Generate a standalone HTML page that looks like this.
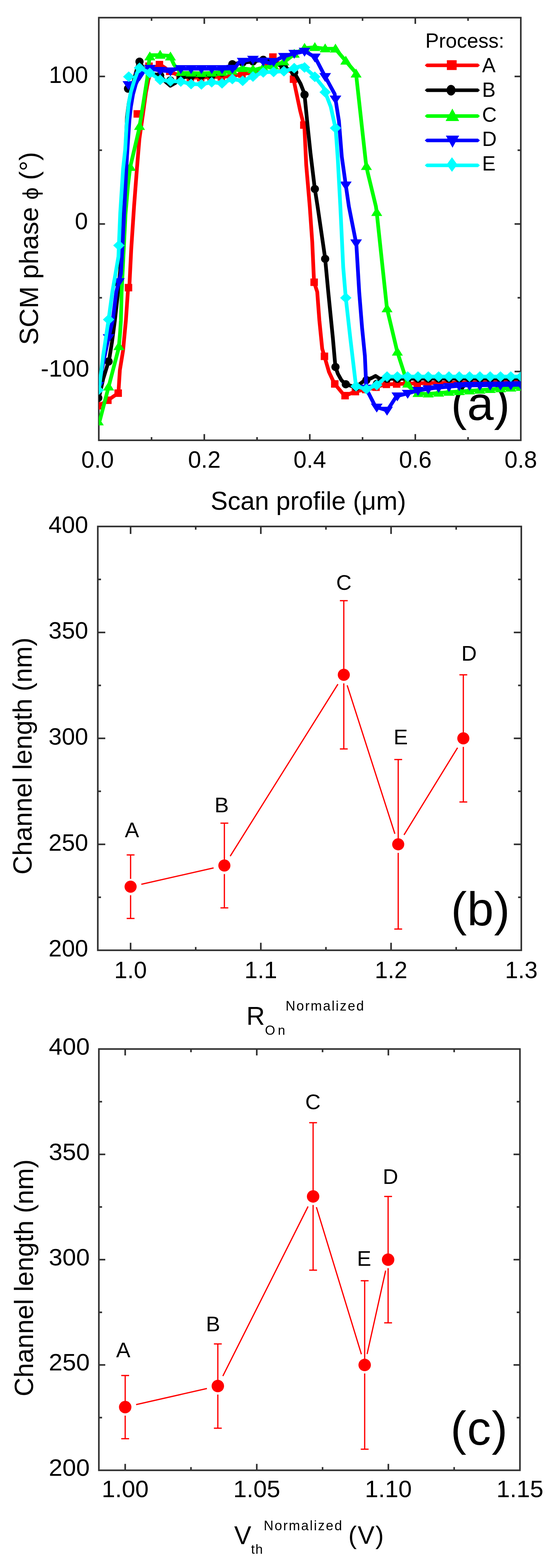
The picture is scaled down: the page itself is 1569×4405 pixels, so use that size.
<!DOCTYPE html>
<html><head><meta charset="utf-8"><title>Figure</title>
<style>html,body{margin:0;padding:0;background:#fff}svg{display:block}</style></head>
<body><svg width="1569" height="4405" viewBox="0 0 1569 4405">
<rect width="1569" height="4405" fill="#fff"/>
<g font-family="Liberation Sans, Arial, sans-serif">
<text x="1268.0" y="1180.2" font-size="134" text-anchor="start" letter-spacing="0.9">(a)</text>
</g>
<rect x="277.8" y="49.6" width="1186.60" height="1187.30" fill="none" stroke="#303030" stroke-width="4.5"/>
<path d="M574.45,1236.90v-17.5M574.45,49.60v17.5M871.10,1236.90v-17.5M871.10,49.60v17.5M1167.75,1236.90v-17.5M1167.75,49.60v17.5M426.12,1236.90v-9M426.12,49.60v9M722.77,1236.90v-9M722.77,49.60v9M1019.42,1236.90v-9M1019.42,49.60v9M1316.07,1236.90v-9M1316.07,49.60v9" stroke="#303030" stroke-width="4.5" fill="none"/>
<path d="M277.80,1043.80h17.5M1464.40,1043.80h-17.5M277.80,629.30h17.5M1464.40,629.30h-17.5M277.80,214.80h17.5M1464.40,214.80h-17.5M277.80,836.55h9M1464.40,836.55h-9M277.80,422.05h9M1464.40,422.05h-9" stroke="#303030" stroke-width="4.5" fill="none"/>
<svg x="277.8" y="49.6" width="1186.6000000000001" height="1187.3000000000002" viewBox="277.8 49.6 1186.6000000000001 1187.3000000000002" overflow="hidden">
<path d="M278.0,1140.0L304.0,1124.0L333.0,1104.0L337.0,1040.0L346.0,985.0L354.0,900.0L360.0,812.0L364.0,800.0L369.0,700.0L377.0,579.0L385.0,474.0L392.0,390.0L402.0,320.0L410.0,262.0L417.0,225.0L424.0,203.0L436.0,190.0L449.0,181.0L463.0,190.0L478.0,201.0L507.0,214.0L536.0,218.0L565.0,218.0L594.0,216.0L623.0,216.0L652.0,214.0L680.0,208.0L709.0,204.0L738.0,198.0L767.0,160.0L796.0,192.0L821.0,202.0L844.0,311.0L856.0,358.0L861.0,463.0L871.0,580.0L878.0,680.0L883.0,792.0L892.0,820.0L898.0,900.0L906.0,980.0L912.0,1000.0L925.0,1045.0L940.0,1077.0L969.0,1112.0L1002.0,1099.0L1047.0,1091.0L1082.0,1080.0L1138.0,1078.0L1200.0,1076.0L1464.0,1073.0" fill="none" stroke="#ff0000" stroke-width="10.5" stroke-linejoin="round"/>
<rect x="263.8" y="1129.5" width="21" height="21" fill="#ff0000"/><rect x="292.8" y="1113.9" width="21" height="21" fill="#ff0000"/><rect x="321.8" y="1094.0" width="21" height="21" fill="#ff0000"/><rect x="350.8" y="797.6" width="21" height="21" fill="#ff0000"/><rect x="375.5" y="309.5" width="21" height="21" fill="#ff0000"/><rect x="408.5" y="175.5" width="21" height="21" fill="#ff0000"/><rect x="437.8" y="171.0" width="21" height="21" fill="#ff0000"/><rect x="466.8" y="190.0" width="21" height="21" fill="#ff0000"/><rect x="495.8" y="203.2" width="21" height="21" fill="#ff0000"/><rect x="524.8" y="207.4" width="21" height="21" fill="#ff0000"/><rect x="553.8" y="207.5" width="21" height="21" fill="#ff0000"/><rect x="582.8" y="205.5" width="21" height="21" fill="#ff0000"/><rect x="611.8" y="205.5" width="21" height="21" fill="#ff0000"/><rect x="640.8" y="203.5" width="21" height="21" fill="#ff0000"/><rect x="669.8" y="197.5" width="21" height="21" fill="#ff0000"/><rect x="698.8" y="193.4" width="21" height="21" fill="#ff0000"/><rect x="727.8" y="187.1" width="21" height="21" fill="#ff0000"/><rect x="756.8" y="149.8" width="21" height="21" fill="#ff0000"/><rect x="785.8" y="181.6" width="21" height="21" fill="#ff0000"/><rect x="814.8" y="211.9" width="21" height="21" fill="#ff0000"/><rect x="843.8" y="340.8" width="21" height="21" fill="#ff0000"/><rect x="872.8" y="782.4" width="21" height="21" fill="#ff0000"/><rect x="901.8" y="990.5" width="21" height="21" fill="#ff0000"/><rect x="930.8" y="1068.1" width="21" height="21" fill="#ff0000"/><rect x="959.8" y="1101.0" width="21" height="21" fill="#ff0000"/><rect x="988.8" y="1089.6" width="21" height="21" fill="#ff0000"/><rect x="1017.8" y="1083.8" width="21" height="21" fill="#ff0000"/><rect x="1046.8" y="1077.3" width="21" height="21" fill="#ff0000"/><rect x="1075.8" y="1069.3" width="21" height="21" fill="#ff0000"/><rect x="1104.8" y="1068.3" width="21" height="21" fill="#ff0000"/><rect x="1133.8" y="1067.3" width="21" height="21" fill="#ff0000"/><rect x="1162.8" y="1066.4" width="21" height="21" fill="#ff0000"/><rect x="1191.8" y="1065.5" width="21" height="21" fill="#ff0000"/><rect x="1220.8" y="1065.1" width="21" height="21" fill="#ff0000"/><rect x="1249.8" y="1064.8" width="21" height="21" fill="#ff0000"/><rect x="1278.8" y="1064.5" width="21" height="21" fill="#ff0000"/><rect x="1307.8" y="1064.2" width="21" height="21" fill="#ff0000"/><rect x="1336.8" y="1063.8" width="21" height="21" fill="#ff0000"/><rect x="1365.8" y="1063.5" width="21" height="21" fill="#ff0000"/><rect x="1394.8" y="1063.2" width="21" height="21" fill="#ff0000"/><rect x="1423.8" y="1062.8" width="21" height="21" fill="#ff0000"/><rect x="1452.8" y="1062.5" width="21" height="21" fill="#ff0000"/>
<path d="M278.0,1118.0L290.0,1065.0L307.0,1010.0L315.0,960.0L323.0,900.0L332.0,820.0L338.0,760.0L344.0,650.0L349.0,530.0L353.0,420.0L357.0,330.0L362.0,290.0L370.0,250.0L380.0,212.0L391.0,171.0L405.0,195.0L420.0,205.0L450.0,212.0L465.0,229.0L479.0,241.0L493.0,233.0L507.0,218.0L536.0,214.0L565.0,212.0L594.0,212.0L623.0,205.0L650.0,181.0L680.0,176.0L702.0,174.0L741.0,168.0L770.0,175.0L796.0,188.0L826.0,201.0L845.0,235.0L856.0,263.0L865.0,354.0L873.0,430.0L885.0,529.0L893.0,580.0L914.0,724.0L923.0,820.0L936.0,950.0L943.0,1030.0L950.0,1050.0L960.0,1068.0L971.0,1079.0L1000.0,1088.0L1022.0,1071.0L1045.0,1062.0L1056.0,1056.0L1068.0,1064.0L1100.0,1064.0L1464.0,1063.0" fill="none" stroke="#000000" stroke-width="10.5" stroke-linejoin="round"/>
<circle cx="276.3" cy="1118.0" r="11.5" fill="#000000"/><circle cx="305.3" cy="1015.5" r="11.5" fill="#000000"/><circle cx="334.3" cy="797.0" r="11.5" fill="#000000"/><circle cx="360.0" cy="249.0" r="11.5" fill="#000000"/><circle cx="392.3" cy="173.2" r="11.5" fill="#000000"/><circle cx="421.3" cy="205.3" r="11.5" fill="#000000"/><circle cx="450.3" cy="212.3" r="11.5" fill="#000000"/><circle cx="479.0" cy="226.0" r="11.5" fill="#000000"/><circle cx="508.3" cy="217.8" r="11.5" fill="#000000"/><circle cx="537.3" cy="213.9" r="11.5" fill="#000000"/><circle cx="566.3" cy="212.0" r="11.5" fill="#000000"/><circle cx="595.3" cy="211.7" r="11.5" fill="#000000"/><circle cx="624.3" cy="203.8" r="11.5" fill="#000000"/><circle cx="653.3" cy="180.5" r="11.5" fill="#000000"/><circle cx="682.3" cy="175.8" r="11.5" fill="#000000"/><circle cx="711.3" cy="172.6" r="11.5" fill="#000000"/><circle cx="740.3" cy="168.1" r="11.5" fill="#000000"/><circle cx="769.3" cy="174.8" r="11.5" fill="#000000"/><circle cx="798.3" cy="189.0" r="11.5" fill="#000000"/><circle cx="827.3" cy="203.3" r="11.5" fill="#000000"/><circle cx="856.3" cy="266.0" r="11.5" fill="#000000"/><circle cx="885.3" cy="530.9" r="11.5" fill="#000000"/><circle cx="914.3" cy="727.2" r="11.5" fill="#000000"/><circle cx="943.3" cy="1030.9" r="11.5" fill="#000000"/><circle cx="972.3" cy="1079.4" r="11.5" fill="#000000"/><circle cx="1001.3" cy="1087.0" r="11.5" fill="#000000"/><circle cx="1030.3" cy="1067.8" r="11.5" fill="#000000"/><circle cx="1060.0" cy="1078.0" r="11.5" fill="#000000"/><circle cx="1088.3" cy="1064.0" r="11.5" fill="#000000"/><circle cx="1117.3" cy="1064.0" r="11.5" fill="#000000"/><circle cx="1146.3" cy="1063.9" r="11.5" fill="#000000"/><circle cx="1175.3" cy="1063.8" r="11.5" fill="#000000"/><circle cx="1204.3" cy="1063.7" r="11.5" fill="#000000"/><circle cx="1233.3" cy="1063.6" r="11.5" fill="#000000"/><circle cx="1262.3" cy="1063.6" r="11.5" fill="#000000"/><circle cx="1291.3" cy="1063.5" r="11.5" fill="#000000"/><circle cx="1320.3" cy="1063.4" r="11.5" fill="#000000"/><circle cx="1349.3" cy="1063.3" r="11.5" fill="#000000"/><circle cx="1378.3" cy="1063.2" r="11.5" fill="#000000"/><circle cx="1407.3" cy="1063.2" r="11.5" fill="#000000"/><circle cx="1436.3" cy="1063.1" r="11.5" fill="#000000"/><circle cx="1465.3" cy="1063.0" r="11.5" fill="#000000"/>
<path d="M278.0,1185.0L281.0,1180.0L305.0,1088.0L334.0,977.0L338.0,930.0L340.0,900.0L342.0,820.0L348.0,700.0L353.0,600.0L360.0,520.0L366.0,470.0L391.0,363.0L403.0,290.0L414.0,220.0L418.0,180.0L422.0,155.0L450.0,155.0L478.0,157.0L489.0,181.0L497.0,192.0L510.0,205.0L536.0,205.0L565.0,206.0L594.0,205.0L623.0,203.0L652.0,200.0L680.0,192.0L715.0,196.0L740.0,190.0L770.0,185.0L802.0,172.0L830.0,150.0L857.0,135.0L884.0,133.0L914.0,137.0L943.0,137.0L971.0,170.0L1001.0,205.0L1003.0,224.0L1028.0,450.0L1030.0,466.0L1034.0,485.0L1057.0,580.0L1059.0,594.0L1088.0,866.0L1117.0,988.0L1148.0,1084.0L1172.0,1105.0L1200.0,1107.0L1260.0,1102.0L1350.0,1096.0L1464.0,1088.0" fill="none" stroke="#00ff00" stroke-width="10.5" stroke-linejoin="round"/>
<path d="M276.3,1170.0L291.8,1195.0L260.8,1195.0Z" fill="#00ff00"/><path d="M305.3,1071.9L320.8,1096.9L289.8,1096.9Z" fill="#00ff00"/><path d="M334.3,958.5L349.8,983.5L318.8,983.5Z" fill="#00ff00"/><path d="M366.5,455.0L382.0,480.0L351.0,480.0Z" fill="#00ff00"/><path d="M392.3,340.1L407.8,365.1L376.8,365.1Z" fill="#00ff00"/><path d="M421.3,144.4L436.8,169.4L405.8,169.4Z" fill="#00ff00"/><path d="M450.3,140.0L465.8,165.0L434.8,165.0Z" fill="#00ff00"/><path d="M479.3,144.8L494.8,169.8L463.8,169.8Z" fill="#00ff00"/><path d="M508.3,188.3L523.8,213.3L492.8,213.3Z" fill="#00ff00"/><path d="M537.3,190.0L552.8,215.0L521.8,215.0Z" fill="#00ff00"/><path d="M566.3,191.0L581.8,216.0L550.8,216.0Z" fill="#00ff00"/><path d="M595.3,189.9L610.8,214.9L579.8,214.9Z" fill="#00ff00"/><path d="M624.3,187.9L639.8,212.9L608.8,212.9Z" fill="#00ff00"/><path d="M653.3,184.6L668.8,209.6L637.8,209.6Z" fill="#00ff00"/><path d="M682.3,177.3L697.8,202.3L666.8,202.3Z" fill="#00ff00"/><path d="M711.3,180.6L726.8,205.6L695.8,205.6Z" fill="#00ff00"/><path d="M740.3,175.0L755.8,200.0L724.8,200.0Z" fill="#00ff00"/><path d="M769.3,170.1L784.8,195.1L753.8,195.1Z" fill="#00ff00"/><path d="M798.3,158.5L813.8,183.5L782.8,183.5Z" fill="#00ff00"/><path d="M827.3,137.1L842.8,162.1L811.8,162.1Z" fill="#00ff00"/><path d="M856.3,120.4L871.8,145.4L840.8,145.4Z" fill="#00ff00"/><path d="M885.3,118.2L900.8,143.2L869.8,143.2Z" fill="#00ff00"/><path d="M914.3,122.0L929.8,147.0L898.8,147.0Z" fill="#00ff00"/><path d="M943.3,122.4L958.8,147.4L927.8,147.4Z" fill="#00ff00"/><path d="M972.3,156.5L987.8,181.5L956.8,181.5Z" fill="#00ff00"/><path d="M1001.3,192.8L1016.8,217.8L985.8,217.8Z" fill="#00ff00"/><path d="M1030.3,452.4L1045.8,477.4L1014.8,477.4Z" fill="#00ff00"/><path d="M1059.3,581.8L1074.8,606.8L1043.8,606.8Z" fill="#00ff00"/><path d="M1088.3,852.3L1103.8,877.3L1072.8,877.3Z" fill="#00ff00"/><path d="M1117.3,973.9L1132.8,998.9L1101.8,998.9Z" fill="#00ff00"/><path d="M1146.3,1063.7L1161.8,1088.7L1130.8,1088.7Z" fill="#00ff00"/><path d="M1175.3,1090.2L1190.8,1115.2L1159.8,1115.2Z" fill="#00ff00"/><path d="M1204.3,1091.6L1219.8,1116.6L1188.8,1116.6Z" fill="#00ff00"/><path d="M1233.3,1089.2L1248.8,1114.2L1217.8,1114.2Z" fill="#00ff00"/><path d="M1262.3,1086.8L1277.8,1111.8L1246.8,1111.8Z" fill="#00ff00"/><path d="M1291.3,1084.9L1306.8,1109.9L1275.8,1109.9Z" fill="#00ff00"/><path d="M1320.3,1083.0L1335.8,1108.0L1304.8,1108.0Z" fill="#00ff00"/><path d="M1349.3,1081.0L1364.8,1106.0L1333.8,1106.0Z" fill="#00ff00"/><path d="M1378.3,1079.0L1393.8,1104.0L1362.8,1104.0Z" fill="#00ff00"/><path d="M1407.3,1077.0L1422.8,1102.0L1391.8,1102.0Z" fill="#00ff00"/><path d="M1436.3,1074.9L1451.8,1099.9L1420.8,1099.9Z" fill="#00ff00"/><path d="M1465.3,1073.0L1480.8,1098.0L1449.8,1098.0Z" fill="#00ff00"/>
<path d="M278.0,1083.0L290.0,1020.0L305.0,950.0L317.0,900.0L327.0,820.0L340.0,769.0L344.0,700.0L349.0,600.0L354.0,500.0L357.0,440.0L361.0,380.0L364.0,336.0L368.0,300.0L374.0,265.0L382.0,236.0L393.0,212.0L406.0,196.0L420.0,192.0L449.0,198.0L478.0,200.0L497.0,193.0L530.0,193.0L565.0,193.0L594.0,193.0L623.0,193.0L660.0,192.0L672.0,175.0L707.0,166.0L740.0,172.0L760.0,178.0L794.0,160.0L827.0,150.0L858.0,144.0L886.0,161.0L912.0,211.0L941.0,264.0L953.0,340.0L961.0,440.0L972.0,518.0L981.0,580.0L1002.0,686.0L1010.0,820.0L1018.0,920.0L1026.0,1000.0L1030.0,1090.0L1034.0,1100.0L1056.0,1143.0L1089.0,1153.0L1115.0,1113.0L1147.0,1105.0L1175.0,1097.0L1220.0,1090.0L1300.0,1083.0L1464.0,1081.0" fill="none" stroke="#0000ff" stroke-width="10.5" stroke-linejoin="round"/>
<path d="M276.3,1098.0L292.8,1073.0L259.8,1073.0Z" fill="#0000ff"/><path d="M305.3,963.8L321.8,938.8L288.8,938.8Z" fill="#0000ff"/><path d="M334.3,806.4L350.8,781.4L317.8,781.4Z" fill="#0000ff"/><path d="M361.0,253.0L377.5,228.0L344.5,228.0Z" fill="#0000ff"/><path d="M392.3,228.5L408.8,203.5L375.8,203.5Z" fill="#0000ff"/><path d="M421.3,207.3L437.8,182.3L404.8,182.3Z" fill="#0000ff"/><path d="M450.3,213.1L466.8,188.1L433.8,188.1Z" fill="#0000ff"/><path d="M479.3,214.5L495.8,189.5L462.8,189.5Z" fill="#0000ff"/><path d="M508.3,208.0L524.8,183.0L491.8,183.0Z" fill="#0000ff"/><path d="M537.3,208.0L553.8,183.0L520.8,183.0Z" fill="#0000ff"/><path d="M566.3,208.0L582.8,183.0L549.8,183.0Z" fill="#0000ff"/><path d="M595.3,208.0L611.8,183.0L578.8,183.0Z" fill="#0000ff"/><path d="M624.3,208.0L640.8,183.0L607.8,183.0Z" fill="#0000ff"/><path d="M653.3,207.2L669.8,182.2L636.8,182.2Z" fill="#0000ff"/><path d="M682.3,187.4L698.8,162.4L665.8,162.4Z" fill="#0000ff"/><path d="M711.3,181.8L727.8,156.8L694.8,156.8Z" fill="#0000ff"/><path d="M740.3,187.1L756.8,162.1L723.8,162.1Z" fill="#0000ff"/><path d="M769.3,188.1L785.8,163.1L752.8,163.1Z" fill="#0000ff"/><path d="M798.3,173.7L814.8,148.7L781.8,148.7Z" fill="#0000ff"/><path d="M827.3,164.9L843.8,139.9L810.8,139.9Z" fill="#0000ff"/><path d="M856.3,159.3L872.8,134.3L839.8,134.3Z" fill="#0000ff"/><path d="M885.3,175.6L901.8,150.6L868.8,150.6Z" fill="#0000ff"/><path d="M914.3,230.2L930.8,205.2L897.8,205.2Z" fill="#0000ff"/><path d="M943.3,293.6L959.8,268.6L926.8,268.6Z" fill="#0000ff"/><path d="M972.3,535.1L988.8,510.1L955.8,510.1Z" fill="#0000ff"/><path d="M1001.3,697.5L1017.8,672.5L984.8,672.5Z" fill="#0000ff"/><path d="M1030.3,1105.8L1046.8,1080.8L1013.8,1080.8Z" fill="#0000ff"/><path d="M1059.3,1159.0L1075.8,1134.0L1042.8,1134.0Z" fill="#0000ff"/><path d="M1088.3,1167.8L1104.8,1142.8L1071.8,1142.8Z" fill="#0000ff"/><path d="M1117.3,1127.4L1133.8,1102.4L1100.8,1102.4Z" fill="#0000ff"/><path d="M1146.3,1120.2L1162.8,1095.2L1129.8,1095.2Z" fill="#0000ff"/><path d="M1175.3,1112.0L1191.8,1087.0L1158.8,1087.0Z" fill="#0000ff"/><path d="M1204.3,1107.4L1220.8,1082.4L1187.8,1082.4Z" fill="#0000ff"/><path d="M1233.3,1103.8L1249.8,1078.8L1216.8,1078.8Z" fill="#0000ff"/><path d="M1262.3,1101.3L1278.8,1076.3L1245.8,1076.3Z" fill="#0000ff"/><path d="M1291.3,1098.8L1307.8,1073.8L1274.8,1073.8Z" fill="#0000ff"/><path d="M1320.3,1097.8L1336.8,1072.8L1303.8,1072.8Z" fill="#0000ff"/><path d="M1349.3,1097.4L1365.8,1072.4L1332.8,1072.4Z" fill="#0000ff"/><path d="M1378.3,1097.0L1394.8,1072.0L1361.8,1072.0Z" fill="#0000ff"/><path d="M1407.3,1096.7L1423.8,1071.7L1390.8,1071.7Z" fill="#0000ff"/><path d="M1436.3,1096.3L1452.8,1071.3L1419.8,1071.3Z" fill="#0000ff"/><path d="M1465.3,1096.0L1481.8,1071.0L1448.8,1071.0Z" fill="#0000ff"/>
<path d="M278.0,1096.0L290.0,1000.0L305.0,900.0L316.0,820.0L333.0,721.0L338.0,600.0L346.0,475.0L352.0,420.0L356.0,350.0L362.0,290.0L368.0,258.0L378.0,225.0L391.0,190.0L420.0,204.0L449.0,224.0L479.0,228.0L508.0,229.0L537.0,236.0L566.0,237.0L595.0,231.0L624.0,234.0L653.0,222.0L682.0,227.0L711.0,215.0L741.0,203.0L767.0,202.0L800.0,200.0L826.0,192.0L850.0,184.0L883.0,213.0L909.0,245.0L930.0,300.0L944.0,363.0L950.0,450.0L957.0,580.0L965.0,750.0L972.0,834.0L985.0,950.0L1001.0,1085.0L1030.0,1093.0L1059.0,1082.0L1087.0,1058.0L1464.0,1058.0" fill="none" stroke="#00ffff" stroke-width="10.5" stroke-linejoin="round"/>
<path d="M276.3,1081.0L292.3,1096.0L276.3,1111.0L260.3,1096.0Z" fill="#00ffff"/><path d="M305.3,882.8L321.3,897.8L305.3,912.8L289.3,897.8Z" fill="#00ffff"/><path d="M334.3,674.5L350.3,689.5L334.3,704.5L318.3,689.5Z" fill="#00ffff"/><path d="M362.0,200.6L378.0,215.6L362.0,230.6L346.0,215.6Z" fill="#00ffff"/><path d="M392.3,175.6L408.3,190.6L392.3,205.6L376.3,190.6Z" fill="#00ffff"/><path d="M421.3,189.9L437.3,204.9L421.3,219.9L405.3,204.9Z" fill="#00ffff"/><path d="M450.3,209.2L466.3,224.2L450.3,239.2L434.3,224.2Z" fill="#00ffff"/><path d="M479.3,213.0L495.3,228.0L479.3,243.0L463.3,228.0Z" fill="#00ffff"/><path d="M508.3,214.1L524.3,229.1L508.3,244.1L492.3,229.1Z" fill="#00ffff"/><path d="M537.3,221.0L553.3,236.0L537.3,251.0L521.3,236.0Z" fill="#00ffff"/><path d="M566.3,221.9L582.3,236.9L566.3,251.9L550.3,236.9Z" fill="#00ffff"/><path d="M595.3,216.0L611.3,231.0L595.3,246.0L579.3,231.0Z" fill="#00ffff"/><path d="M624.3,218.9L640.3,233.9L624.3,248.9L608.3,233.9Z" fill="#00ffff"/><path d="M653.3,207.1L669.3,222.1L653.3,237.1L637.3,222.1Z" fill="#00ffff"/><path d="M682.3,211.9L698.3,226.9L682.3,241.9L666.3,226.9Z" fill="#00ffff"/><path d="M711.3,199.9L727.3,214.9L711.3,229.9L695.3,214.9Z" fill="#00ffff"/><path d="M740.3,188.3L756.3,203.3L740.3,218.3L724.3,203.3Z" fill="#00ffff"/><path d="M769.3,186.9L785.3,201.9L769.3,216.9L753.3,201.9Z" fill="#00ffff"/><path d="M798.3,185.1L814.3,200.1L798.3,215.1L782.3,200.1Z" fill="#00ffff"/><path d="M827.3,176.6L843.3,191.6L827.3,206.6L811.3,191.6Z" fill="#00ffff"/><path d="M856.3,174.5L872.3,189.5L856.3,204.5L840.3,189.5Z" fill="#00ffff"/><path d="M885.3,200.8L901.3,215.8L885.3,230.8L869.3,215.8Z" fill="#00ffff"/><path d="M914.3,243.9L930.3,258.9L914.3,273.9L898.3,258.9Z" fill="#00ffff"/><path d="M943.3,344.8L959.3,359.8L943.3,374.8L927.3,359.8Z" fill="#00ffff"/><path d="M972.3,821.7L988.3,836.7L972.3,851.7L956.3,836.7Z" fill="#00ffff"/><path d="M1001.3,1070.1L1017.3,1085.1L1001.3,1100.1L985.3,1085.1Z" fill="#00ffff"/><path d="M1030.3,1077.9L1046.3,1092.9L1030.3,1107.9L1014.3,1092.9Z" fill="#00ffff"/><path d="M1059.3,1066.7L1075.3,1081.7L1059.3,1096.7L1043.3,1081.7Z" fill="#00ffff"/><path d="M1088.3,1043.0L1104.3,1058.0L1088.3,1073.0L1072.3,1058.0Z" fill="#00ffff"/><path d="M1117.3,1043.0L1133.3,1058.0L1117.3,1073.0L1101.3,1058.0Z" fill="#00ffff"/><path d="M1146.3,1043.0L1162.3,1058.0L1146.3,1073.0L1130.3,1058.0Z" fill="#00ffff"/><path d="M1175.3,1043.0L1191.3,1058.0L1175.3,1073.0L1159.3,1058.0Z" fill="#00ffff"/><path d="M1204.3,1043.0L1220.3,1058.0L1204.3,1073.0L1188.3,1058.0Z" fill="#00ffff"/><path d="M1233.3,1043.0L1249.3,1058.0L1233.3,1073.0L1217.3,1058.0Z" fill="#00ffff"/><path d="M1262.3,1043.0L1278.3,1058.0L1262.3,1073.0L1246.3,1058.0Z" fill="#00ffff"/><path d="M1291.3,1043.0L1307.3,1058.0L1291.3,1073.0L1275.3,1058.0Z" fill="#00ffff"/><path d="M1320.3,1043.0L1336.3,1058.0L1320.3,1073.0L1304.3,1058.0Z" fill="#00ffff"/><path d="M1349.3,1043.0L1365.3,1058.0L1349.3,1073.0L1333.3,1058.0Z" fill="#00ffff"/><path d="M1378.3,1043.0L1394.3,1058.0L1378.3,1073.0L1362.3,1058.0Z" fill="#00ffff"/><path d="M1407.3,1043.0L1423.3,1058.0L1407.3,1073.0L1391.3,1058.0Z" fill="#00ffff"/><path d="M1436.3,1043.0L1452.3,1058.0L1436.3,1073.0L1420.3,1058.0Z" fill="#00ffff"/><path d="M1465.3,1043.0L1481.3,1058.0L1465.3,1073.0L1449.3,1058.0Z" fill="#00ffff"/>
</svg>
<g font-family="Liberation Sans, Arial, sans-serif" fill="#000">
<text x="274.4" y="1314.3" font-size="66" text-anchor="middle" >0.0</text>
<text x="574.5" y="1314.3" font-size="66" text-anchor="middle" >0.2</text>
<text x="871.1" y="1314.3" font-size="66" text-anchor="middle" >0.4</text>
<text x="1167.8" y="1314.3" font-size="66" text-anchor="middle" >0.6</text>
<text x="1464.4" y="1314.3" font-size="66" text-anchor="middle" >0.8</text>
<text transform="translate(247.6,232.8) scale(1,1)" font-size="66" text-anchor="end">100</text>
<text transform="translate(247.1,644.2) scale(1,1)" font-size="66" text-anchor="end">0</text>
<text transform="translate(251.1,1058.2) scale(1.035,1)" font-size="66" text-anchor="end">-100</text>
<text x="867.0" y="1432.3" font-size="72" text-anchor="middle" >Scan profile (μm)</text>
<text transform="translate(106.9,698) rotate(-90)" font-size="74.2" text-anchor="middle">SCM phase <tspan font-size="62">ϕ</tspan> (°)</text>
<text x="1196.0" y="134.0" font-size="57" text-anchor="start" >Process:</text>
<path d="M1194.4,183.4L1200,178.4L1344,178.4L1349.4,183.4L1344,188.4L1200,188.4Z" fill="#ff0000"/>
<text x="1355.5" y="203.0" font-size="57" text-anchor="start" >A</text>
<path d="M1194.4,253.5L1200,248.5L1344,248.5L1349.4,253.5L1344,258.5L1200,258.5Z" fill="#000000"/>
<text x="1355.5" y="271.6" font-size="57" text-anchor="start" >B</text>
<path d="M1194.4,325.9L1200,320.9L1344,320.9L1349.4,325.9L1344,330.9L1200,330.9Z" fill="#00ff00"/>
<text x="1355.5" y="341.6" font-size="57" text-anchor="start" >C</text>
<path d="M1194.4,394.6L1200,389.6L1344,389.6L1349.4,394.6L1344,399.6L1200,399.6Z" fill="#0000ff"/>
<text x="1355.5" y="409.9" font-size="57" text-anchor="start" >D</text>
<path d="M1194.4,464.4L1200,459.4L1344,459.4L1349.4,464.4L1344,469.4L1200,469.4Z" fill="#00ffff"/>
<text x="1355.5" y="479.2" font-size="57" text-anchor="start" >E</text>
</g>
<rect x="1256.5" y="169.2" width="27.5" height="27.5" fill="#ff0000"/>
<ellipse cx="1268.2" cy="253.4" rx="12.5" ry="15" fill="#000000"/>
<path d="M1272.0,304.9L1291.0,339.9L1253.0,339.9Z" fill="#00ff00"/>
<path d="M1272.4,415.0L1291.1,381.0L1253.7,381.0Z" fill="#0000ff"/>
<path d="M1270.9,441.7L1285.9,462.2L1270.9,482.7L1255.9,462.2Z" fill="#00ffff"/>
<g font-family="Liberation Sans, Arial, sans-serif" fill="#000">
<text x="1268.0" y="2599.8" font-size="134" text-anchor="start" letter-spacing="0.9">(b)</text>
</g>
<path d="M397.4,2484.2L600.6,2438.3M647.3,2405.2L950.2,1922.0M976.2,1925.2L1110.3,2342.4M1136.0,2345.5L1286.6,2100.7" stroke="#ff0000" stroke-width="3.5" fill="none"/>
<path d="M367.2,2401.7V2469.0M367.2,2515.0V2580.3M356.2,2401.7h22M356.2,2580.3h22M630.9,2312.4V2415.5M630.9,2455.5V2550.5M619.9,2312.4h22M619.9,2550.5h22M966.7,1687.4V1879.7M966.7,1919.7V2104.1M955.7,1687.4h22M955.7,2104.1h22M1119.7,2133.8V2355.9M1119.7,2395.9V2610.1M1108.7,2133.8h22M1108.7,2610.1h22M1302.8,1895.7V2058.3M1302.8,2098.3V2252.9M1291.8,1895.7h22M1291.8,2252.9h22" stroke="#ff0000" stroke-width="3.5" fill="none"/>
<circle cx="367.2" cy="2491.0" r="17.0" fill="#ff0000"/>
<circle cx="630.9" cy="2431.5" r="17.0" fill="#ff0000"/>
<circle cx="966.7" cy="1895.7" r="17.0" fill="#ff0000"/>
<circle cx="1119.7" cy="2371.9" r="17.0" fill="#ff0000"/>
<circle cx="1302.8" cy="2074.3" r="17.0" fill="#ff0000"/>
<g font-family="Liberation Sans, Arial, sans-serif" fill="#000">
<text x="371.0" y="2351.5" font-size="60" text-anchor="middle" >A</text>
<text x="623.3" y="2281.8" font-size="60" text-anchor="middle" >B</text>
<text x="966.8" y="1657.0" font-size="60" text-anchor="middle" >C</text>
<text x="1126.8" y="2091.4" font-size="60" text-anchor="middle" >E</text>
<text x="1319.0" y="1856.3" font-size="60" text-anchor="middle" >D</text>
</g>
<rect x="275" y="1479" width="1190.80" height="1190.60" fill="none" stroke="#303030" stroke-width="4.5"/>
<path d="M367.20,2669.60v-21M367.20,1479.00v21M733.40,2669.60v-21M733.40,1479.00v21M1099.60,2669.60v-21M1099.60,1479.00v21M550.30,2669.60v-9M550.30,1479.00v9M916.50,2669.60v-9M916.50,1479.00v9M1282.70,2669.60v-9M1282.70,1479.00v9" stroke="#303030" stroke-width="4.5" fill="none"/>
<path d="M275.00,2371.95h21M1465.80,2371.95h-21M275.00,2074.30h21M1465.80,2074.30h-21M275.00,1776.65h21M1465.80,1776.65h-21M275.00,2520.78h9M1465.80,2520.78h-9M275.00,2223.12h9M1465.80,2223.12h-9M275.00,1925.47h9M1465.80,1925.47h-9M275.00,1627.82h9M1465.80,1627.82h-9" stroke="#303030" stroke-width="4.5" fill="none"/>
<g font-family="Liberation Sans, Arial, sans-serif" fill="#000">
<text transform="translate(367.2,2748) scale(1.0,1)" font-size="66" text-anchor="middle">1.0</text>
<text transform="translate(733.4,2748) scale(1.0,1)" font-size="66" text-anchor="middle">1.1</text>
<text transform="translate(1099.6,2748) scale(1.0,1)" font-size="66" text-anchor="middle">1.2</text>
<text transform="translate(1465.8,2748) scale(1.0,1)" font-size="66" text-anchor="middle">1.3</text>
<text transform="translate(248,2687.3) scale(1.012,1)" font-size="66" text-anchor="end">200</text>
<text transform="translate(248,2389.7) scale(1.012,1)" font-size="66" text-anchor="end">250</text>
<text transform="translate(248,2092.0) scale(1.012,1)" font-size="66" text-anchor="end">300</text>
<text transform="translate(248,1794.4) scale(1.012,1)" font-size="66" text-anchor="end">350</text>
<text transform="translate(248,1496.7) scale(1.012,1)" font-size="66" text-anchor="end">400</text>
<text transform="translate(89,2124) rotate(-90)" font-size="73.5" text-anchor="middle">Channel length (nm)</text>
</g>
<g font-family="Liberation Sans, Arial, sans-serif" fill="#000">
<text x="692.7" y="2879.3" font-size="72" text-anchor="start" >R</text>
<text x="745.0" y="2907.0" font-size="37" text-anchor="start" letter-spacing="7.4">On</text>
<text x="803.0" y="2838.8" font-size="38" text-anchor="start" letter-spacing="3.1">Normalized</text>
</g>
<g font-family="Liberation Sans, Arial, sans-serif" fill="#000">
<text x="1266.7" y="4059.0" font-size="134" text-anchor="start" letter-spacing="2.1">(c)</text>
</g>
<path d="M382.7,3946.0L581.8,3900.8M626.6,3865.7L866.2,3389.4M889.6,3391.3L1016.2,3804.5M1032.2,3803.9L1084.4,3569.5" stroke="#ff0000" stroke-width="3.5" fill="none"/>
<path d="M352.0,3864.2V3936.5M352.0,3977.0V4041.7M341.0,3864.2h22M341.0,4041.7h22M612.5,3775.4V3877.3M612.5,3917.8V4012.2M601.5,3775.4h22M601.5,4012.2h22M880.4,3154.1V3344.7M880.4,3385.2V3568.3M869.4,3154.1h22M869.4,3568.3h22M1025.4,3597.9V3818.1M1025.4,3858.6V4071.3M1014.4,3597.9h22M1014.4,4071.3h22M1091.3,3361.2V3522.2M1091.3,3562.8V3716.3M1080.3,3361.2h22M1080.3,3716.3h22" stroke="#ff0000" stroke-width="3.5" fill="none"/>
<circle cx="352.0" cy="3953.0" r="17.5" fill="#ff0000"/>
<circle cx="612.5" cy="3893.8" r="17.5" fill="#ff0000"/>
<circle cx="880.4" cy="3361.2" r="17.5" fill="#ff0000"/>
<circle cx="1025.4" cy="3834.6" r="17.5" fill="#ff0000"/>
<circle cx="1091.3" cy="3538.8" r="17.5" fill="#ff0000"/>
<g font-family="Liberation Sans, Arial, sans-serif" fill="#000">
<text x="346.6" y="3812.9" font-size="60" text-anchor="middle" >A</text>
<text x="599.0" y="3740.1" font-size="60" text-anchor="middle" >B</text>
<text x="880.0" y="3115.6" font-size="60" text-anchor="middle" >C</text>
<text x="1023.7" y="3556.3" font-size="60" text-anchor="middle" >E</text>
<text x="1098.0" y="3326.0" font-size="60" text-anchor="middle" >D</text>
</g>
<rect x="278" y="2947" width="1184.00" height="1183.50" fill="none" stroke="#303030" stroke-width="4.5"/>
<path d="M352.00,4130.50v-18M352.00,2947.00v18M722.00,4130.50v-18M722.00,2947.00v18M1092.00,4130.50v-18M1092.00,2947.00v18M537.00,4130.50v-9M537.00,2947.00v9M907.00,4130.50v-9M907.00,2947.00v9M1277.00,4130.50v-9M1277.00,2947.00v9" stroke="#303030" stroke-width="4.5" fill="none"/>
<path d="M278.00,3834.62h18M1462.00,3834.62h-18M278.00,3538.75h18M1462.00,3538.75h-18M278.00,3242.88h18M1462.00,3242.88h-18M278.00,3982.56h9M1462.00,3982.56h-9M278.00,3686.69h9M1462.00,3686.69h-9M278.00,3390.81h9M1462.00,3390.81h-9M278.00,3094.94h9M1462.00,3094.94h-9" stroke="#303030" stroke-width="4.5" fill="none"/>
<g font-family="Liberation Sans, Arial, sans-serif" fill="#000">
<text transform="translate(352.0,4205.7) scale(1.028,1)" font-size="66" text-anchor="middle">1.00</text>
<text transform="translate(722.0,4205.7) scale(1.028,1)" font-size="66" text-anchor="middle">1.05</text>
<text transform="translate(1092.0,4205.7) scale(1.028,1)" font-size="66" text-anchor="middle">1.10</text>
<text transform="translate(1462.0,4205.7) scale(1.028,1)" font-size="66" text-anchor="middle">1.15</text>
<text transform="translate(252.3,4146.2) scale(1.045,1)" font-size="66" text-anchor="end">200</text>
<text transform="translate(252.3,3850.3) scale(1.045,1)" font-size="66" text-anchor="end">250</text>
<text transform="translate(252.3,3554.5) scale(1.045,1)" font-size="66" text-anchor="end">300</text>
<text transform="translate(252.3,3258.6) scale(1.045,1)" font-size="66" text-anchor="end">350</text>
<text transform="translate(252.3,2962.7) scale(1.045,1)" font-size="66" text-anchor="end">400</text>
<text transform="translate(93,3590) rotate(-90)" font-size="73.5" text-anchor="middle">Channel length (nm)</text>
</g>
<g font-family="Liberation Sans, Arial, sans-serif" fill="#000">
<text x="658.5" y="4337.8" font-size="72" text-anchor="start" >V</text>
<text x="706.0" y="4364.5" font-size="37" text-anchor="start" letter-spacing="2">th</text>
<text x="741.5" y="4299.3" font-size="38" text-anchor="start" letter-spacing="3.1">Normalized</text>
<text x="979.6" y="4336.7" font-size="71" text-anchor="start" letter-spacing="2.4">(V)</text>
</g>
</svg></body></html>
